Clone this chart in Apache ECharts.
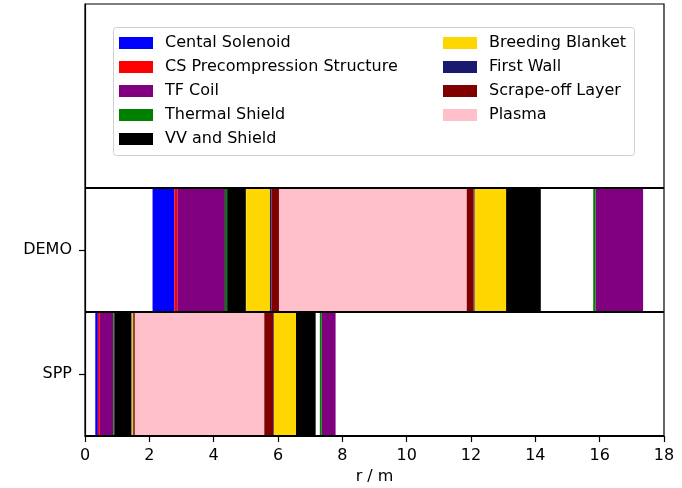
<!DOCTYPE html>
<html>
<head>
<meta charset="utf-8">
<script src="https://cdn.jsdelivr.net/npm/echarts@6/dist/echarts.min.js"></script>
<style>html,body{margin:0;padding:0;background:#fff}#c{width:682px;height:488px}</style>
</head>
<body>
<div id="c"></div>
<script>
// Categories (y axis, bottom to top)
const categories = ['SPP', 'DEMO'];
// Layer names (legend order)
const layers = ['Cental Solenoid', 'CS Precompression Structure', 'TF Coil', 'Thermal Shield',
  'VV and Shield', 'Breeding Blanket', 'First Wall', 'Scrape-off Layer', 'Plasma'];
// x tick labels
const xTicks = [0, 2, 4, 6, 8, 10, 12, 14, 16, 18];
// Radial build of DEMO: [layer, r start (m), r end (m)]
const demoBuild = [
  ['Cental Solenoid', 2.10, 2.78],
  ['CS Precompression Structure', 2.78, 2.87],
  ['TF Coil', 2.87, 4.35],
  ['Thermal Shield', 4.35, 4.42],
  ['VV and Shield', 4.42, 5.00],
  ['Breeding Blanket', 5.01, 5.75],
  ['First Wall', 5.75, 5.80],
  ['Scrape-off Layer', 5.80, 6.03],
  ['Plasma', 6.03, 11.86],
  ['Scrape-off Layer', 11.86, 12.08],
  ['First Wall', 12.08, 12.11],
  ['Breeding Blanket', 12.11, 13.09],
  ['VV and Shield', 13.09, 14.17],
  ['Thermal Shield', 15.80, 15.87],
  ['TF Coil', 15.87, 17.35]
];
// Radial build of SPP: [layer, r start (m), r end (m)]
const sppBuild = [
  ['Cental Solenoid', 0.32, 0.40],
  ['CS Precompression Structure', 0.40, 0.46],
  ['TF Coil', 0.46, 0.88],
  ['Thermal Shield', 0.88, 0.91],
  ['VV and Shield', 0.91, 1.45],
  ['Breeding Blanket', 1.45, 1.49],
  ['First Wall', 1.49, 1.51],
  ['Scrape-off Layer', 1.51, 1.55],
  ['Plasma', 1.55, 5.57],
  ['Scrape-off Layer', 5.57, 5.85],
  ['First Wall', 5.85, 5.87],
  ['Breeding Blanket', 5.87, 6.56],
  ['VV and Shield', 6.56, 7.17],
  ['Thermal Shield', 7.30, 7.36],
  ['TF Coil', 7.36, 7.79]
];
// Horizontal separator lines (y values)
const sepLines = [-0.5, 0.5, 1.5];

// Styles
const colors = ['#0000ff', '#ff0000', '#800080', '#008000', '#000000', '#ffd700', '#191970', '#800000', '#ffc0cb'];
const FONT = 'DejaVu Sans';

const builds = [sppBuild, demoBuild];

function renderItem(params, api) {
  const x0 = api.value(0), x1 = api.value(1), c = api.value(2);
  const p0 = api.coord([x0, c + 0.5]);
  const p1 = api.coord([x1, c - 0.5]);
  return {
    type: 'rect',
    shape: { x: p0[0], y: p0[1], width: p1[0] - p0[0], height: p1[1] - p0[1] },
    style: { fill: api.visual('color') }
  };
}

const series = layers.map((name, i) => {
  const data = [];
  builds.forEach((b, ci) => {
    b.forEach(seg => { if (seg[0] === name) data.push([seg[1], seg[2], ci]); });
  });
  return {
    name: name,
    type: 'custom',
    renderItem: renderItem,
    itemStyle: { color: colors[i] },
    encode: { x: [0, 1], y: 2 },
    data: data,
    silent: true
  };
});

series.push({
  type: 'line',
  data: [],
  silent: true,
  markLine: {
    silent: true,
    symbol: 'none',
    label: { show: false },
    lineStyle: { color: '#000', width: 2, type: 'solid' },
    data: sepLines.map(v => ({ yAxis: v }))
  }
});

const legendBase = {
  orient: 'vertical',
  icon: 'rect',
  itemWidth: 34,
  itemHeight: 12,
  itemGap: 8,
  padding: 0,
  selectedMode: false,
  textStyle: { fontFamily: FONT, fontSize: 16, color: '#000', lineHeight: 16, padding: [0, 0, 0, 7] }
};

const option = {
  animation: false,
  backgroundColor: '#fff',
  grid: { left: 85, right: 18, top: 4, bottom: 52, outerBoundsMode: 'none', containLabel: false,
    show: true, borderColor: '#000', borderWidth: 1.2, backgroundColor: 'transparent' },
  legend: [
    Object.assign({}, legendBase, { left: 119, top: 35, data: layers.slice(0, 5) }),
    Object.assign({}, legendBase, { left: 443, top: 35, data: layers.slice(5) })
  ],
  graphic: [{
    type: 'rect',
    shape: { x: 113.5, y: 27.5, width: 521, height: 128, r: 3 },
    style: { fill: 'rgba(255,255,255,0.8)', stroke: '#d0d0d0', lineWidth: 1 },
    z: 0
  }],
  xAxis: {
    type: 'value',
    min: xTicks[0],
    max: xTicks[xTicks.length - 1],
    interval: 2,
    name: 'r / m',
    nameLocation: 'middle',
    nameGap: 33,
    nameTextStyle: { fontFamily: FONT, fontSize: 16, color: '#000' },
    axisLine: { show: true, onZero: false, lineStyle: { color: '#000', width: 1.2 } },
    axisTick: { show: true, length: 6, lineStyle: { color: '#000', width: 1.2 } },
    axisLabel: { fontFamily: FONT, fontSize: 16, color: '#000', margin: 12 },
    splitLine: { show: false }
  },
  yAxis: {
    type: 'value',
    min: -0.5,
    max: 2.98,
    axisLine: { show: true, onZero: false, lineStyle: { color: '#000', width: 1.2 } },
    axisTick: { show: true, length: 6, customValues: [0, 1], lineStyle: { color: '#000', width: 1.2 } },
    axisLabel: {
      fontFamily: FONT, fontSize: 16, color: '#000', margin: 13,
      customValues: [0, 1],
      formatter: v => categories[Math.round(v)] || ''
    },
    splitLine: { show: false }
  },
  series: series
};

const chart = echarts.init(document.getElementById('c'), null, { renderer: 'canvas' });
chart.setOption(option);
</script>
</body>
</html>
